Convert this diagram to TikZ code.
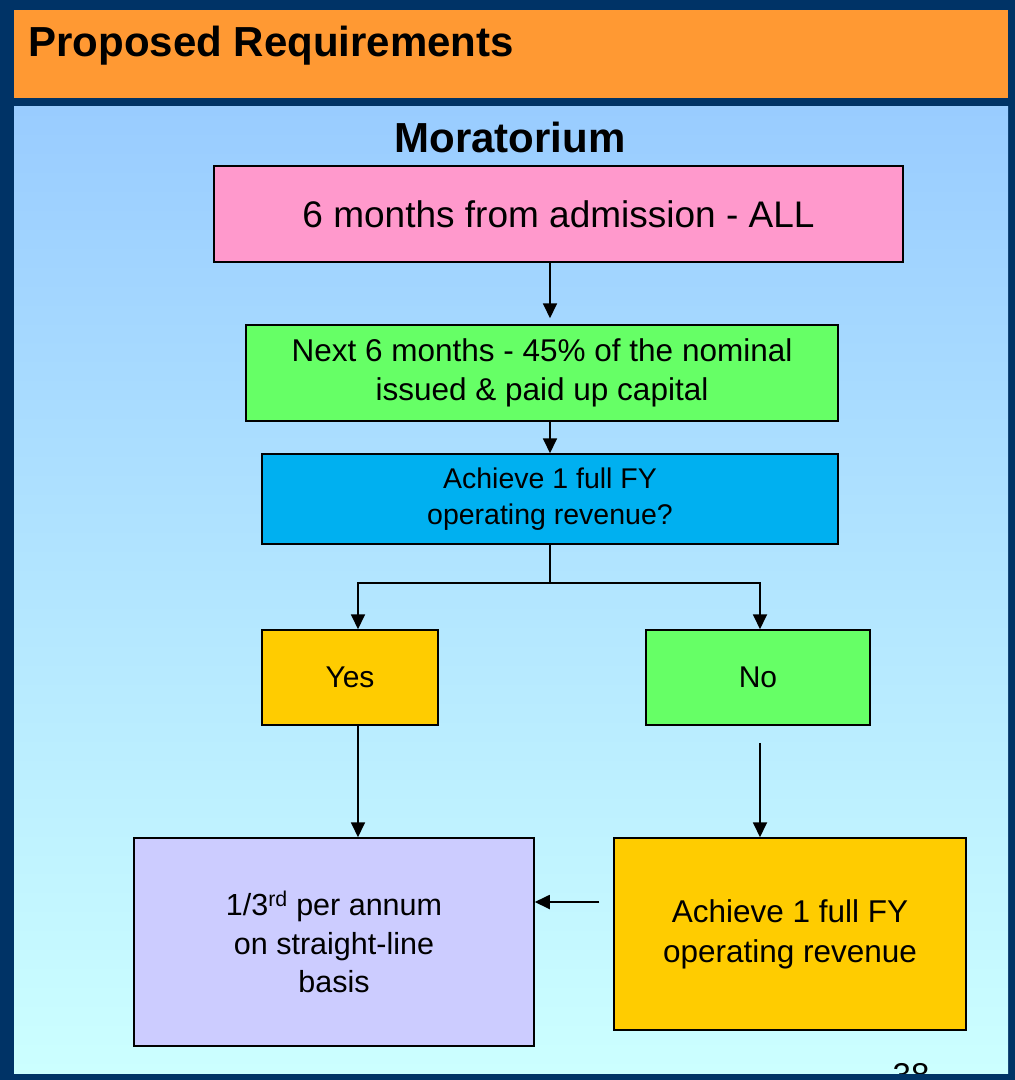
\documentclass[tikz,border=0pt]{standalone}
\usepackage{fontspec}
\setmainfont{Liberation Sans}
\usetikzlibrary{arrows.meta}
\definecolor{navy}{HTML}{003366}
\definecolor{hdr}{HTML}{FF9933}
\definecolor{sky}{HTML}{99CCFF}
\definecolor{ice}{HTML}{CCFFFF}
\definecolor{rose}{HTML}{FF99CC}
\definecolor{lime}{HTML}{66FF66}
\definecolor{cyanbox}{HTML}{00B0F0}
\definecolor{gold}{HTML}{FFCC00}
\definecolor{lilac}{HTML}{CCCCFF}
\newcommand{\fs}[2]{\fontsize{#1}{#2}\selectfont}
\tikzset{
  box/.style={draw=black, line width=1.5pt, align=center, inner sep=0pt},
  arr/.style={line width=1.8pt, -{Triangle[width=14pt,length=15pt]}},
}
\begin{document}
\begin{tikzpicture}[x=1pt, y=-1pt]
\useasboundingbox (0,0) rectangle (1015,1080);
% frame and background
\fill[navy] (0,0) rectangle (1015,1080);
\fill[hdr] (14,10) rectangle (1008,98);
\shade[top color=sky, bottom color=ice] (14,106) rectangle (1008,1073);
\node[anchor=base west, font=\fs{42}{50}\bfseries] (title) at (25,56) {Proposed Requirements};
\node[font=\fs{42}{50}\bfseries] (mor) at (510,137) {Moratorium};
\begin{scope}
\clip (14,106) rectangle (1008,1073);
\node[font=\fs{33}{40}] (pg) at (911,1075) {38};
\end{scope}
% boxes
\node[box, fill=rose, minimum width=689pt, minimum height=96pt, font=\fs{37}{44}] (adm) at (558.5,214) {6 months from admission - ALL};
\node[box, fill=lime, minimum width=592pt, minimum height=96pt, font=\fs{31.5}{39}] (nxt) at (542,373) {Next 6 months - 45\% of the nominal\\issued \& paid up capital};
\node[box, fill=cyanbox, minimum width=576pt, minimum height=90pt, font=\fs{28.5}{36}] (ach) at (550,499) {Achieve 1 full FY\\operating revenue?};
\node[box, fill=gold, minimum width=176pt, minimum height=95pt, font=\fs{30}{36}] (yes) at (350,677.5) {Yes};
\node[box, fill=lime, minimum width=224pt, minimum height=95pt, font=\fs{30}{36}] (no) at (758,677.5) {No};
\node[box, fill=lilac, minimum width=400pt, minimum height=208pt, font=\fs{30.5}{38.5}] (str) at (334,942) {1/3\textsuperscript{rd} per annum\\on straight-line\\basis};
\node[box, fill=gold, minimum width=352pt, minimum height=192pt, font=\fs{31.5}{40}] (rev) at (790,934) {Achieve 1 full FY\\operating revenue};
% connectors
\draw[arr, shorten >=6pt] (adm.south -| ach) -- (nxt.north -| ach);
\draw[arr] (nxt.south -| ach) -- (ach.north);
\draw[line width=1.8pt] (ach.south) -- ++(0,38) coordinate (split);
\draw[arr] (split) -| ([xshift=8pt]yes.north);
\draw[arr] (split) -| ([xshift=2pt]no.north);
\draw[arr] ([xshift=8pt]yes.south) -- ([xshift=8pt]yes.south |- str.north);
\draw[arr] ([shift={(2pt,-17pt)}]no.south) -- ([xshift=2pt]no.south |- rev.north);
\draw[arr] ([shift={(-14pt,32pt)}]rev.west) -- ([yshift=32pt]rev.west -| str.east);
\end{tikzpicture}
\end{document}
